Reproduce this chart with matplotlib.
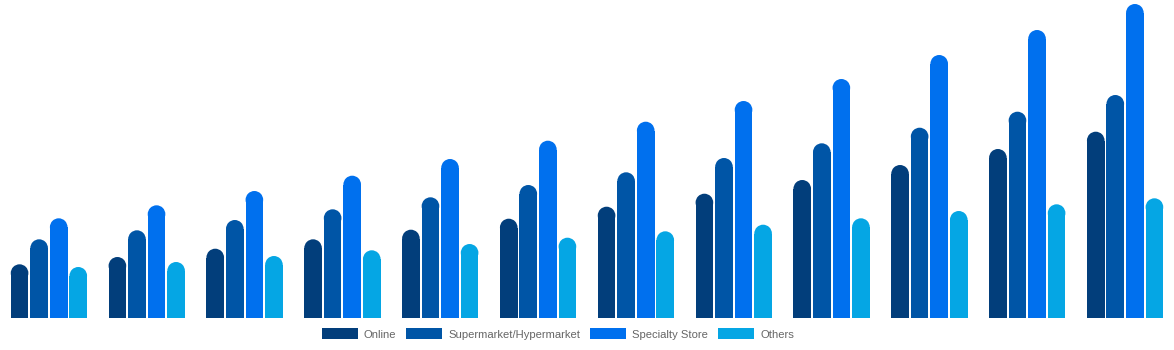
import matplotlib
matplotlib.use("Agg")
import matplotlib.pyplot as plt
from matplotlib.patches import Ellipse, Patch
import numpy as np

plt.rcParams['font.family'] = ['Liberation Sans', 'DejaVu Sans']

years = ["2019", "2020", "2021", "2022", "2023", "2024", "2025",
         "2026", "2027", "2028", "2029", "2030"]
series_names = ["Online", "Supermarket/Hypermarket", "Specialty Store", "Others"]
online = [53.7, 61.0, 69.3, 78.7, 88.3, 99.3, 111.3, 124.3, 138.0, 153.0, 169.0, 186.3]
supermarket = [78.7, 87.7, 98.0, 108.7, 120.7, 133.0, 145.7, 160.0, 174.7, 190.3, 206.3, 223.0]
specialty = [99.7, 112.7, 127.0, 142.3, 159.0, 177.3, 196.3, 217.0, 239.0, 263.0, 288.0, 314.0]
others = [51.0, 56.0, 62.0, 67.7, 74.0, 80.3, 86.7, 93.3, 99.7, 107.0, 113.7, 119.7]
colors = ["#023e7b", "#0055a6", "#0070ee", "#05a6e4"]

W, H = 1174, 350
fig = plt.figure(figsize=(W / 100, H / 100), dpi=100)
base_px = 32
ax = fig.add_axes([0, base_px / H, 1, (H - base_px) / H])
ymax = 318.0
ax.set_xlim(-0.5, len(years) - 0.5)
ax.set_ylim(0, ymax)
ax.axis("off")

x = np.arange(len(years))
bw = 0.18
offsets = [-0.3, -0.1, 0.1, 0.3]
# radius of rounded cap in data units (half bar width in pixels)
px_per_x = W / len(years)
px_per_y = (H - base_px) / ymax
r_px = bw * px_per_x / 2
r_y = r_px / px_per_y

for vals, off, c in zip([online, supermarket, specialty, others], offsets, colors):
    vals = np.asarray(vals)
    ax.bar(x + off, vals - r_y, width=bw, color=c, linewidth=0)
    for xi, v in zip(x + off, vals):
        ax.add_patch(Ellipse((xi, v - r_y), bw, 2 * r_y, color=c, linewidth=0))

fs = 8.1
fs_px = fs * 100 / 72
handles = [Patch(facecolor=c, edgecolor='none') for c in colors]
fig.legend(handles, series_names, loc="center",
           bbox_to_anchor=(558 / W, 1 - 334 / H), ncol=4, frameon=False,
           fontsize=fs, handlelength=36 / fs_px, handleheight=12 / fs_px,
           handletextpad=6 / fs_px, columnspacing=10 / fs_px,
           labelcolor="#666666", borderaxespad=0, borderpad=0)

fig.savefig("out.png", dpi=100)
